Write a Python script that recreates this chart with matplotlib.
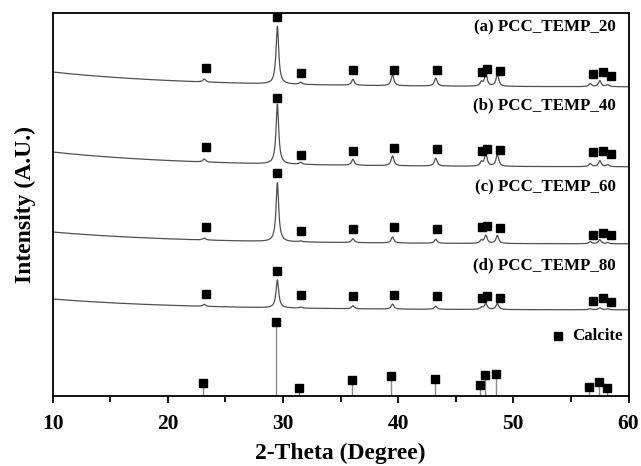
import matplotlib

matplotlib.use("Agg")
import matplotlib.pyplot as plt
import numpy as np
from matplotlib.ticker import MultipleLocator

# calcite reflections (2-theta, degree)
CALCITE_POS = [23.06, 29.41, 31.42, 35.97, 39.41, 43.16, 47.12, 47.51, 48.51, 56.57, 57.41, 58.09]
# reference stick heights (A.U.)
CALCITE_H = [13, 74, 8, 16, 20, 17, 11, 21, 22, 9, 14, 8]

LABELS = ["(a) PCC_TEMP_20", "(b) PCC_TEMP_40", "(c) PCC_TEMP_60", "(d) PCC_TEMP_80"]

# peak heights above background for each sample
PEAK_A = [3, 58, 2, 6, 11, 8, 4, 12, 12, 3, 6, 2]
PEAK_B = [3, 60, 2, 6, 10, 8, 4, 12, 12, 3, 6, 2]
PEAK_C = [2, 59, 1, 4, 6, 4, 3, 8, 8, 2, 4, 1]
PEAK_D = [2, 28, 1, 3, 5, 3, 2, 6, 6, 1, 2, 1]

# background level at 10 deg and at 60 deg (stacked offsets)
BG_START = [324, 244, 164, 97]
BG_END = [309, 229, 152, 86]

# marker positions above the sample peaks
MARK_X = [23.3, 29.5, 31.6, 36.1, 39.6, 43.35, 47.3, 47.75, 48.85, 56.9, 57.75, 58.45]
MARK_A = [328, 379, 323, 326, 326, 326, 324, 327, 325, 322, 324, 320]
MARK_B = [249, 298, 241, 245, 248, 247, 245, 247, 246, 244, 245, 242]
MARK_C = [169, 223, 165, 167, 169, 167, 169, 170, 168, 161, 163, 161]
MARK_D = [102, 125, 101, 100, 101, 100, 98, 100, 98, 95, 98, 94]

LABEL_Y = [369, 291, 209, 131]

TRACE_COLOR = "#505050"
STICK_COLOR = "#8a8a8a"


def pattern(x, heights, start, end, shift=0.1, fwhm=0.28):
    bg = end + (start - end) * np.exp(-(x - 10) / 12.0)
    y = bg.copy()
    g = fwhm / 2
    for p, h in zip(CALCITE_POS, heights):
        y += h * g**2 / ((x - p - shift) ** 2 + g**2)
    return y


plt.rcParams.update(
    {
        "font.family": "Liberation Serif",
        "font.weight": "bold",
        "axes.linewidth": 1.3,
    }
)

fig = plt.figure(figsize=(6.41, 4.66), dpi=100)
ax = fig.add_axes([0.0822, 0.1502, 0.8983, 0.8219])

x = np.linspace(10, 60, 5000)
peaks = [PEAK_A, PEAK_B, PEAK_C, PEAK_D]
marks = [MARK_A, MARK_B, MARK_C, MARK_D]
for i in range(4):
    y = pattern(x, peaks[i], BG_START[i], BG_END[i])
    ax.plot(x, y, color=TRACE_COLOR, lw=0.9)
    ax.plot(MARK_X, marks[i], "s", color="black", ms=6.3, ls="none")
    ax.text(58.9, LABEL_Y[i], LABELS[i], ha="right", va="center",
            fontsize=12.2, fontweight="bold")

# calcite reference sticks
ax.vlines(CALCITE_POS, 0, CALCITE_H, color=STICK_COLOR, lw=1.0)
ax.plot(CALCITE_POS, CALCITE_H, "s", color="black", ms=6.3, ls="none")
ax.plot([53.86], [60], "s", color="black", ms=6.3)
ax.text(55.1, 60, "Calcite", ha="left", va="center", fontsize=12.2, fontweight="bold")

ax.set_xlim(10, 60)
ax.set_ylim(0, 383)
ax.xaxis.set_major_locator(MultipleLocator(10))
ax.xaxis.set_minor_locator(MultipleLocator(5))
ax.tick_params(axis="x", which="major", direction="out", length=5, width=1.3,
               labelsize=15.5, pad=8)
ax.tick_params(axis="x", which="minor", direction="out", length=4.5, width=1.3)
ax.set_yticks([])
ax.set_xlabel("2-Theta (Degree)", fontsize=17, fontweight="bold", labelpad=6)
ax.set_ylabel("Intensity (A.U.)", fontsize=17, fontweight="bold", labelpad=12)

fig.savefig("out.png", dpi=100)
